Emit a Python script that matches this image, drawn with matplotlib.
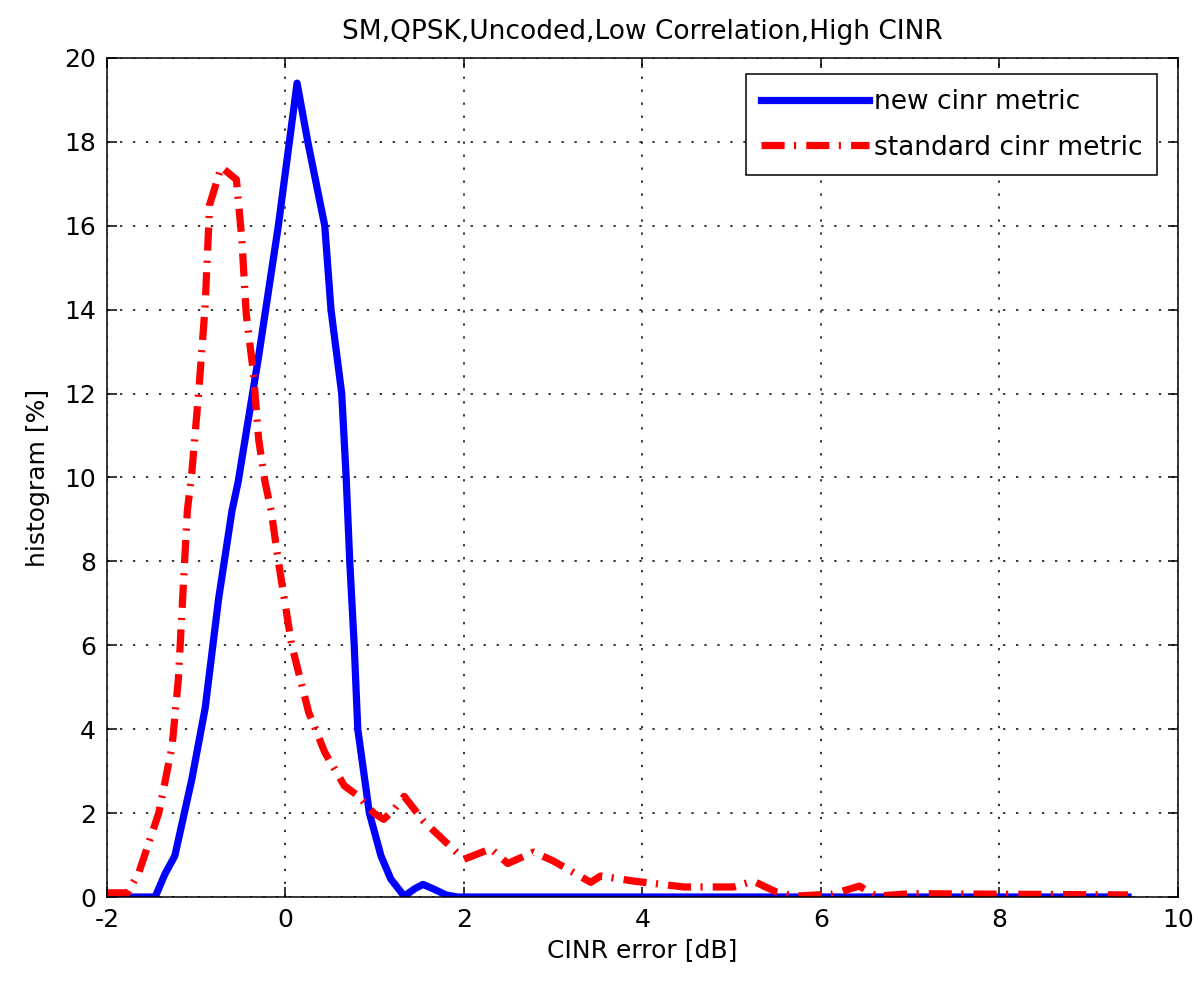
from matplotlib import pyplot as plt
import numpy as np

plt.rcParams['font.family'] = ['DejaVu Sans']
plt.rcParams['axes.unicode_minus'] = False

# CINR error [dB] vs histogram [%]
new_x = [-2, -1.46, -1.35, -1.24, -1.05, -0.9, -0.75, -0.6, -0.53, -0.3, -0.08, 0.13,
         0.25, 0.44, 0.51, 0.63, 0.68, 0.72, 0.77, 0.81, 0.94, 1.07, 1.18, 1.33,
         1.45, 1.54, 1.65, 1.8, 1.93, 9.44]
new_y = [0, 0, 0.55, 0.98, 2.8, 4.5, 7.1, 9.2, 9.9, 12.9, 16, 19.4,
         18, 16, 14, 12, 10, 8, 6, 4, 2, 0.98, 0.43, 0.02,
         0.2, 0.3, 0.2, 0.05, 0, 0]

std_x = [-2, -1.77, -1.64, -1.42, -1.27, -1.2, -1.16, -1.1, -1.05, -0.97, -0.9, -0.85,
         -0.72, -0.55, -0.49, -0.44, -0.36, -0.3, -0.23, -0.16, -0.08, 0.07, 0.26, 0.44,
         0.66, 0.82, 0.99, 1.1, 1.22, 1.33, 1.55, 2.0, 2.3, 2.49, 2.78, 3.0, 3.42, 3.53,
         3.9, 4.46, 5.02, 5.24, 5.5, 5.69, 6.13, 6.43, 6.62, 7.0, 9.44]
std_y = [0.1, 0.1, 0.6, 2.0, 3.6, 5.2, 6.8, 9.2, 10.1, 12.1, 14.1, 16.5,
         17.4, 17.1, 15.7, 13.9, 12.5, 10.9, 9.9, 9.2, 8.0, 6.0, 4.4, 3.45,
         2.65, 2.4, 2.0, 1.85, 2.1, 2.4, 1.8, 0.9, 1.15, 0.8, 1.07, 0.86, 0.35, 0.5,
         0.38, 0.24, 0.24, 0.38, 0.12, 0.02, 0.07, 0.26, 0.02, 0.08, 0.05]

fig = plt.figure(figsize=(11.98, 9.89), dpi=100)
ax = fig.add_axes([0.0893, 0.093, 0.894, 0.8484])

ax.plot(new_x, new_y, color=(0, 0, 1), lw=5.2, label='new cinr metric')
ax.plot(std_x, std_y, color=(1, 0, 0), lw=5.2, dashes=(3.2, 1.3, 0.3, 1.4),
        dash_capstyle='butt', label='standard cinr metric')

ax.set_xlim(-2, 10)
ax.set_ylim(0, 20)
ax.set_xticks(np.arange(-2, 11, 2))
ax.set_yticks(np.arange(0, 21, 2))
ax.grid(True, color='black', linestyle=(0, (1.5, 7)), linewidth=1.1)
ax.tick_params(direction='in', top=True, right=True, labelsize=18, length=7,
               width=1.1, pad=8)
for s in ax.spines.values():
    s.set_linewidth(1.1)

ax.set_title('SM,QPSK,Uncoded,Low Correlation,High CINR', fontsize=19, pad=14)
ax.set_xlabel('CINR error [dB]', fontsize=18, labelpad=4)
ax.set_ylabel('histogram [%]', fontsize=18, labelpad=10)

leg = ax.legend(loc='upper right', fontsize=19, fancybox=False, edgecolor='black',
                framealpha=1, handlelength=4.1, handletextpad=0.2,
                borderpad=0.55, labelspacing=0.75, borderaxespad=0.3,
                bbox_to_anchor=(0.988, 0.99))
leg.get_frame().set_linewidth(1.1)

plt.savefig('out.png')
